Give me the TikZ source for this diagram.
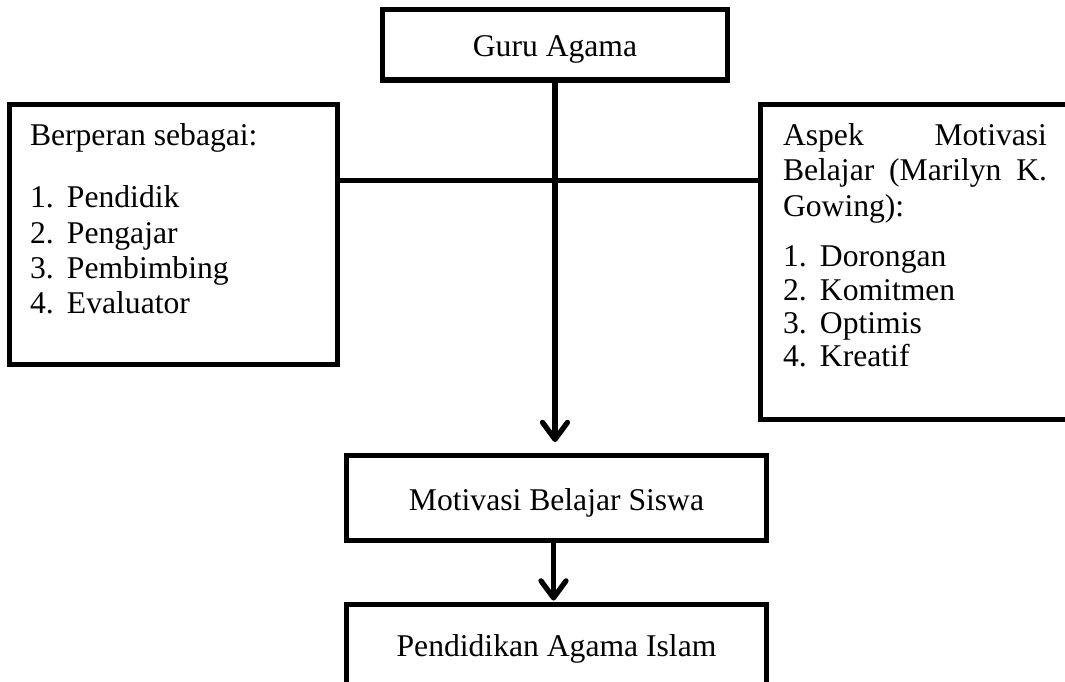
\documentclass[tikz,border=0pt]{standalone}
\usepackage{fontspec}
\setmainfont{Liberation Serif}
\usepackage{tikz}
\usetikzlibrary{positioning}
\usetikzlibrary{arrows.meta}
\hbadness=10000

\begin{document}
\begin{tikzpicture}[line width=3pt, font=\fontsize{18}{20.1}\selectfont,
    box/.style={draw, rectangle, inner sep=0pt, outer sep=0pt, align=center, text height=0.55cm, text depth=0.07cm},
    listbox/.style={draw, rectangle, anchor=north west, inner ysep=0.3cm, outer sep=0pt, text height=0.52cm},
    arr/.style={-{Straight Barb[length=0.34cm, width=0.5cm, round]}}]
    \useasboundingbox (0,0) rectangle (21.3,-13.62);
    \clip (0,0) rectangle (21.3,-13.62);

    \node [box, minimum width=6.9cm, minimum height=1.41cm] (guru) at (11.1,-0.895) {Guru Agama};
    \node [box, minimum width=8.4cm, minimum height=1.7cm] (motiv) at (11.13,-9.96) {Motivasi Belajar Siswa};
    \node [box, minimum width=8.4cm, minimum height=1.6cm, below=1.28cm of motiv] (pend) {Pendidikan Agama Islam};

    \node [listbox, inner xsep=0.41cm, text depth=4.08cm] (peran) at (0.19,-2.09) {\parbox[t]{5.74cm}{\raggedright
        Berperan sebagai:\\[0.54cm]
        \makebox[0.74cm][l]{1.}Pendidik\\
        \makebox[0.74cm][l]{2.}Pengajar\\
        \makebox[0.74cm][l]{3.}Pembimbing\\
        \makebox[0.74cm][l]{4.}Evaluator}};
    \node [listbox, inner xsep=0.45cm, text depth=5.18cm] (aspek) at (15.21,-2.09) {\parbox[t]{5.28cm}{%
        Aspek Motivasi\linebreak Belajar (Marilyn K.\linebreak Gowing):\par
        \vspace{0.35cm}\fontsize{18}{18.9}\selectfont\raggedright
        \makebox[0.74cm][l]{1.}Dorongan\\
        \makebox[0.74cm][l]{2.}Komitmen\\
        \makebox[0.74cm][l]{3.}Optimis\\
        \makebox[0.74cm][l]{4.}Kreatif}};

    % connectors
    \coordinate (cross) at (11.1,-3.61);
    \draw (peran.east |- cross) -- (aspek.west |- cross);
    \draw [arr, shorten >=0.27cm] (guru.south) -- (guru.south |- motiv.north);
    \draw [arr, shorten >=0.08cm] ([xshift=-0.06cm]motiv.south) -- ([xshift=-0.06cm]pend.north);
\end{tikzpicture}
\end{document}
